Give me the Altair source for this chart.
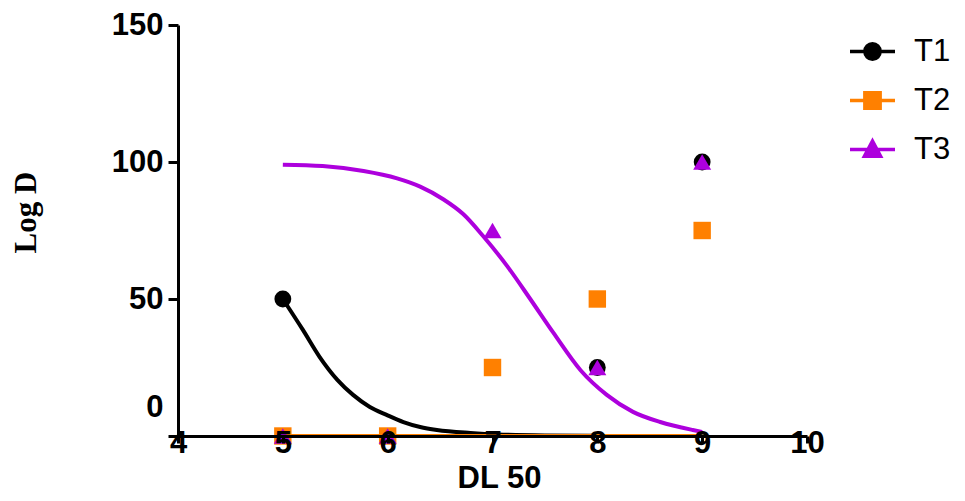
import altair as alt
import pandas as pd

# ---- data ----
series = ["T1", "T2", "T3"]
colors = ["#000000", "#FF8000", "#AD00DD"]

t1_x = [5, 8, 9]
t1_y = [50, 25, 100]
t2_x = [5, 6, 7, 8, 9]
t2_y = [0, 0, 25, 50, 75]
t3_x = [5, 6, 7, 8, 9]
t3_y = [0, 0, 75, 25, 100]

fit1_x = [5.0, 5.19, 5.35, 5.52, 5.67, 5.83, 5.99, 6.15, 6.31, 6.47, 6.79, 7.1, 7.5, 8.0]
fit1_y = [50, 38.8, 28.9, 20.5, 15.0, 10.6, 7.7, 5.1, 3.3, 2.2, 1.1, 0.5, 0.2, 0.1]
fit2_x = [5, 9]
fit2_y = [0, 0]
fit3_x = [5.0, 5.38, 5.77, 6.09, 6.31, 6.53, 6.72, 6.91, 7.14, 7.36, 7.58, 7.84,
          8.09, 8.34, 8.60, 8.91, 9.0]
fit3_y = [99, 98.5, 96.7, 94, 91, 86.4, 81, 73, 62, 50, 37.7, 24, 15, 8.8, 5.1, 2.2, 1.5]

x_ticks = [4, 5, 6, 7, 8, 9, 10]
y_ticks = [0, 50, 100, 150]

# ---- tables ----
pts = pd.concat([
    pd.DataFrame({"x": t1_x, "y": t1_y, "s": "T1"}),
    pd.DataFrame({"x": t2_x, "y": t2_y, "s": "T2"}),
    pd.DataFrame({"x": t3_x, "y": t3_y, "s": "T3"}),
], ignore_index=True)
fits = pd.concat([
    pd.DataFrame({"x": fit1_x, "y": fit1_y, "s": "T1"}),
    pd.DataFrame({"x": fit2_x, "y": fit2_y, "s": "T2"}),
    pd.DataFrame({"x": fit3_x, "y": fit3_y, "s": "T3"}),
], ignore_index=True)

SANS = "Liberation Sans"
SERIF = "Liberation Serif"

x_enc = alt.X(
    "x:Q",
    scale=alt.Scale(domain=[4, 10], nice=False, zero=False),
    axis=alt.Axis(
        values=x_ticks, title="DL 50", grid=False, labelFlush=False,
        labelFont=SANS, labelFontSize=31, labelFontWeight="bold", labelColor="black",
        labelPadding=-15, tickSize=7, tickWidth=3, tickColor="black",
        domainColor="black", domainWidth=3, zindex=1,
        titleFont=SANS, titleFontSize=31, titleFontWeight="bold", titleColor="black",
        titleX=321, titleY=51, titleBaseline="alphabetic", titleAlign="center",
    ),
)
y_enc = alt.Y(
    "y:Q",
    scale=alt.Scale(domain=[0, 150], nice=False, zero=False),
    axis=alt.Axis(
        values=y_ticks, title="Log D", grid=False,
        labelFont=SANS, labelFontSize=31, labelFontWeight="bold", labelColor="black",
        labelPadding=5, tickSize=10, tickWidth=3, tickColor="black",
        labelOffset={"condition": {"test": "datum.value === 0", "value": -29}, "value": 0},
        domainColor="black", domainWidth=3,
        titleFont=SERIF, titleFontSize=31, titleFontWeight="bold", titleColor="black",
        titleX=-152, titleY=187, titleAngle=-90, titleBaseline="middle", titleAlign="center",
    ),
)

color_scale = alt.Scale(domain=series, range=colors)

lines = alt.Chart(fits).mark_line(strokeWidth=4, interpolate="monotone").encode(
    x=x_enc, y=y_enc,
    color=alt.Color("s:N", scale=color_scale, legend=None),
)

points = alt.Chart(pts).mark_point(filled=True, opacity=1, strokeWidth=0).encode(
    x=x_enc, y=y_enc,
    color=alt.Color("s:N", scale=color_scale, legend=None),
    shape=alt.Shape("s:N", scale=alt.Scale(domain=series, range=["circle", "square", "triangle-up"]), legend=None),
    size=alt.Size("s:N", scale=alt.Scale(domain=series, range=[283, 324, 324]), legend=None),
)

legend_paths = [
    "M-2.5,0H2.5M0.85,0A0.85,0.85,0,1,1,-0.85,0A0.85,0.85,0,1,1,0.85,0Z",
    "M-2.5,0H2.5M-0.85,-0.85H0.85V0.85H-0.85Z",
    "M-2.5,0H2.5M0,-0.95L0.9,0.75L-0.9,0.75Z",
]
leg = alt.Legend(
    title=None, orient="none", legendX=679, legendY=11, direction="vertical",
    labelFont=SANS, labelFontSize=31, labelColor="black", labelOffset=26,
    symbolSize=324, symbolStrokeWidth=3.5, symbolOpacity=1, rowPadding=17, padding=0,
)
legend_layer = alt.Chart(pts).transform_filter("false").mark_point(filled=True, opacity=1).encode(
    x=x_enc, y=y_enc,
    fill=alt.Fill("s:N", scale=alt.Scale(domain=series, range=colors), legend=leg),
    stroke=alt.Stroke("s:N", scale=alt.Scale(domain=series, range=colors), legend=leg),
    shape=alt.Shape("s:N", scale=alt.Scale(domain=series, range=legend_paths), legend=leg),
)

chart = alt.layer(lines, points, legend_layer).resolve_scale(
    shape="independent", fill="independent", stroke="independent"
).properties(
    width=629, height=411,
    autosize=alt.AutoSizeParams(type="none"),
    padding={"left": 170, "top": 17, "right": 150, "bottom": 57},
    background="white",
).configure_view(stroke="transparent", strokeWidth=0)

chart.save("out.html", embed_options={"renderer": "svg", "actions": False})
